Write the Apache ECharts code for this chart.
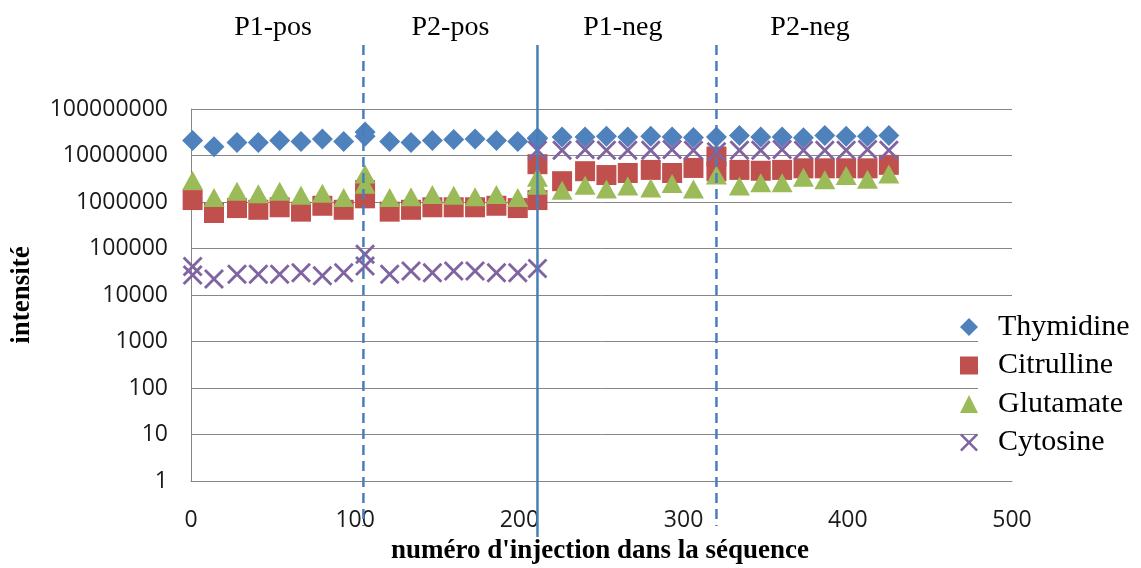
<!DOCTYPE html>
<html>
<head>
<meta charset="utf-8">
<script src="https://cdn.jsdelivr.net/npm/echarts@6/dist/echarts.min.js"></script>
<style>
html,body{margin:0;padding:0;background:#fff;}
#chart{width:1141px;height:568px;}
</style>
</head>
<body>
<div id="chart"></div>
<script>
// ---- data (injection number, intensity) ----
const seriesNames = ['Thymidine', 'Citrulline', 'Glutamate', 'Cytosine'];

const thymidineX = [1,14,28,41,54,67,80,93,106,106,121,134,147,160,173,186,199,211,
                    211,226,240,253,266,280,293,306,320,334,347,360,373,386,399,412,425];
const thymidineY = [2.1e7,1.55e7,1.9e7,1.9e7,2.1e7,2.0e7,2.25e7,2.0e7,3.2e7,2.6e7,2.0e7,1.9e7,2.1e7,2.2e7,2.25e7,2.1e7,2.0e7,2.3e7,
                    2.4e7,2.5e7,2.5e7,2.6e7,2.5e7,2.6e7,2.5e7,2.45e7,2.5e7,2.7e7,2.5e7,2.5e7,2.4e7,2.7e7,2.6e7,2.6e7,2.7e7];

const citrullineX = [1,14,28,41,54,67,80,93,106,106,121,134,147,160,173,186,199,211,
                     211,226,240,253,266,280,293,306,320,320,334,347,360,373,386,399,412,425];
const citrullineY = [1.1e6,5.8e5,7.4e5,6.8e5,7.7e5,6.2e5,8.3e5,6.8e5,1.8e6,1.2e6,6.2e5,6.8e5,7.7e5,7.7e5,7.7e5,8.3e5,7.4e5,1.1e6,
                     6.5e6,2.8e6,4.6e6,3.8e6,4.2e6,4.9e6,4.2e6,5.4e6,9.5e6,4.6e6,4.9e6,4.7e6,4.9e6,5.3e6,5.3e6,5.3e6,5.3e6,6.3e6];

const glutamateX = [1,14,28,41,54,67,80,93,106,106,121,134,147,160,173,186,199,211,
                    211,226,240,253,266,280,293,306,320,334,347,360,373,386,399,412,425];
const glutamateY = [2.9e6,1.25e6,1.7e6,1.5e6,1.7e6,1.4e6,1.55e6,1.25e6,4.0e6,2.4e6,1.25e6,1.3e6,1.45e6,1.4e6,1.3e6,1.45e6,1.25e6,2.3e6,
                    3.4e6,1.8e6,2.3e6,1.9e6,2.2e6,2.0e6,2.5e6,1.9e6,3.8e6,2.2e6,2.6e6,2.6e6,3.4e6,3.0e6,3.7e6,3.1e6,4.0e6];

const cytosineX = [1,1,14,28,41,54,67,80,93,106,106,121,134,147,160,173,186,199,211,
                   211,226,240,253,266,280,293,306,320,334,347,360,373,386,399,412,425];
const cytosineY = [4.1e4,2.7e4,2.2e4,2.8e4,2.8e4,2.8e4,3.0e4,2.6e4,3.0e4,7.5e4,4.2e4,2.8e4,3.3e4,3.0e4,3.3e4,3.3e4,3.0e4,3.0e4,3.7e4,
                   1.3e7,1.3e7,1.35e7,1.3e7,1.3e7,1.3e7,1.35e7,1.3e7,1.2e7,1.3e7,1.3e7,1.35e7,1.3e7,1.3e7,1.3e7,1.35e7,1.3e7];

// x-axis ticks
const xTicks = [0, 100, 200, 300, 400, 500];
// y-axis ticks (log)
const yTicks = [1, 10, 100, 1000, 10000, 100000, 1000000, 10000000, 100000000];

// section boundaries and labels
const boundaryX = [105, 211, 320];
const boundaryDashed = [true, false, true];
const sectionLabels = ['P1-pos', 'P2-pos', 'P1-neg', 'P2-neg'];
const sectionCenters = [50, 158, 263, 377];

// ---- chart ----
const colors = ['#4F81BD', '#C0504D', '#9BBB59', '#8064A2'];
const crossPath = 'path://M0,2 L2,0 L10,8 L18,0 L20,2 L12,10 L20,18 L18,20 L10,12 L2,20 L0,18 L8,10 Z';

function zip(xs, ys) { return xs.map((x, i) => [x, ys[i]]); }

const chart = echarts.init(document.getElementById('chart'), null, {renderer: 'canvas'});
const axisFont = '"Open Sans", sans-serif';
const serif = '"Liberation Serif", "Times New Roman", serif';

const option = {
  animation: false,
  backgroundColor: '#fff',
  grid: {left: 191, right: 129, top: 109, bottom: 87, containLabel: false},
  xAxis: {
    type: 'value', min: xTicks[0], max: xTicks[xTicks.length - 1], interval: 100,
    axisLine: {show: true, lineStyle: {color: '#868686', width: 1}},
    axisTick: {show: false},
    splitLine: {show: false},
    axisLabel: {fontFamily: axisFont, fontSize: 23, color: '#1a1a1a', margin: 28,
      formatter: v => String(v)}
  },
  yAxis: {
    type: 'log', logBase: 10, min: yTicks[0], max: yTicks[yTicks.length - 1], splitNumber: 8,
    axisLine: {show: true, lineStyle: {color: '#868686', width: 1}},
    axisTick: {show: false},
    splitLine: {show: true, lineStyle: {color: '#868686', width: 1}},
    axisLabel: {fontFamily: axisFont, fontSize: 23, color: '#1a1a1a', margin: 23,
      formatter: v => String(Math.round(v))}
  },
  legend: {
    orient: 'vertical', left: 955, top: 307,
    itemWidth: 18, itemHeight: 18, itemGap: 8.5,
    data: seriesNames,
    textStyle: {fontFamily: serif, fontSize: 30, color: '#000', lineHeight: 30, padding: [0, 0, 0, 15]},
    selectedMode: false
  },
  series: [
    {name: seriesNames[0], type: 'scatter', symbol: 'diamond', symbolSize: 21,
     itemStyle: {color: colors[0], opacity: 1}, data: zip(thymidineX, thymidineY)},
    {name: seriesNames[1], type: 'scatter', symbol: 'rect', symbolSize: 20,
     itemStyle: {color: colors[1], opacity: 1}, data: zip(citrullineX, citrullineY)},
    {name: seriesNames[2], type: 'scatter', symbol: 'triangle', symbolSize: [21, 19],
     itemStyle: {color: colors[2], opacity: 1}, data: zip(glutamateX, glutamateY)},
    {name: seriesNames[3], type: 'scatter', symbol: crossPath, symbolSize: 20,
     itemStyle: {color: colors[3], opacity: 1}, data: zip(cytosineX, cytosineY)}
  ]
};
chart.setOption(option);

// annotations placed through the x scale
const elements = [];
elements.push({type: 'rect', z: 1, shape: {x: 978, y: 305, width: 163, height: 156}, style: {fill: '#fff'}});
boundaryX.forEach((bx, i) => {
  const px = chart.convertToPixel({xAxisIndex: 0}, bx);
  elements.push({
    type: 'line', z: 20,
    shape: {x1: px, y1: 45, x2: px, y2: boundaryDashed[i] ? 526 : 537},
    style: {stroke: '#4A7EBB', lineWidth: 2.5, lineDash: boundaryDashed[i] ? [10, 6] : null}
  });
});
sectionLabels.forEach((t, i) => {
  const px = chart.convertToPixel({xAxisIndex: 0}, sectionCenters[i]);
  elements.push({type: 'text', z: 20, x: px, y: 28,
    style: {text: t, fontFamily: serif, fontSize: 28, fill: '#000', align: 'center', verticalAlign: 'middle'}});
});
elements.push({type: 'text', z: 20, x: 600, y: 551,
  style: {text: "numéro d'injection dans la séquence", fontFamily: serif, fontWeight: 'bold', fontSize: 27,
    fill: '#000', align: 'center', verticalAlign: 'middle'}});
elements.push({type: 'text', z: 20, x: 22, y: 295, rotation: Math.PI / 2,
  style: {text: 'intensité', fontFamily: serif, fontWeight: 'bold', fontSize: 27,
    fill: '#000', align: 'center', verticalAlign: 'middle'}});
chart.setOption({graphic: {elements: elements}});
</script>
</body>
</html>
